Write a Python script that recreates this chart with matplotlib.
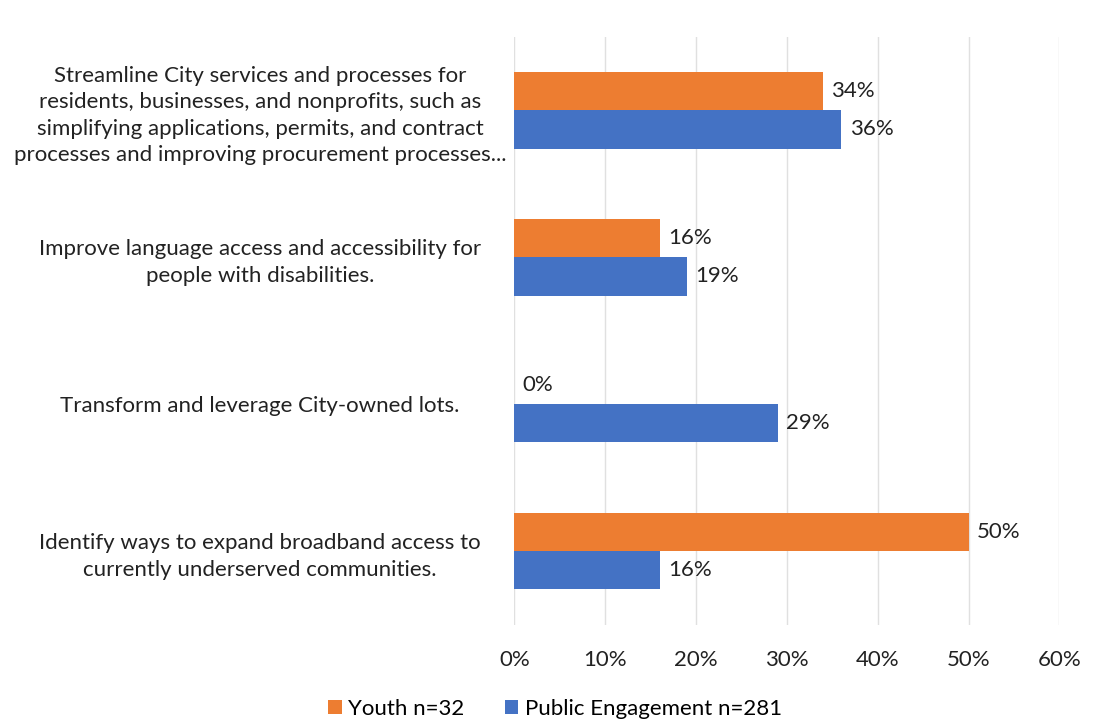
import matplotlib.pyplot as plt
import numpy as np

plt.rcParams['font.family'] = ['Lato', 'DejaVu Sans']

categories = [
    "Streamline City services and processes for\nresidents, businesses, and nonprofits, such as\nsimplifying applications, permits, and contract\nprocesses and improving procurement processes...",
    "Improve language access and accessibility for\npeople with disabilities.",
    "Transform and leverage City-owned lots.",
    "Identify ways to expand broadband access to\ncurrently underserved communities.",
]
youth = [34, 16, 0, 50]
public = [36, 19, 29, 16]
series_names = ["Youth n=32", "Public Engagement n=281"]
xticks = [0, 10, 20, 30, 40, 50, 60]

fig = plt.figure(figsize=(10.99, 7.23), dpi=100)
ax = fig.add_axes([0.468, 0.136, 0.496, 0.813])

y = np.arange(len(categories))
h = 0.26
b1 = ax.barh(y - h / 2, youth, height=h, color='#ED7D31', label=series_names[0])
b2 = ax.barh(y + h / 2, public, height=h, color='#4472C4', label=series_names[1])

for bars, vals in ((b1, youth), (b2, public)):
    for rect, v in zip(bars, vals):
        ax.text(v + 0.9, rect.get_y() + rect.get_height() / 2, f"{v}%",
                va='center', ha='left', fontsize=16, color='#222222')

ax.set_ylim(len(categories) - 0.5, -0.5)
ax.set_xlim(0, 60)
ax.set_xticks(xticks)
ax.set_xticklabels([f"{t}%" for t in xticks], fontsize=16, color='#222222')
ax.set_yticks(y)
ax.set_yticklabels(categories, fontsize=16, color='#222222', ha='center', linespacing=1.4)
ax.tick_params(axis='y', length=0, pad=183)
ax.tick_params(axis='x', length=0, pad=18)
ax.xaxis.grid(True, color='#e0e0e0', linewidth=1)
ax.set_axisbelow(True)
for s in ax.spines.values():
    s.set_visible(False)

fig.legend(handles=[b1, b2], loc='center', bbox_to_anchor=(0.505, 0.02), ncol=2,
           frameon=False, fontsize=16, handlelength=0.6, handleheight=0.6,
           handletextpad=0.3, columnspacing=1.8)

fig.savefig('out.png', dpi=100)
